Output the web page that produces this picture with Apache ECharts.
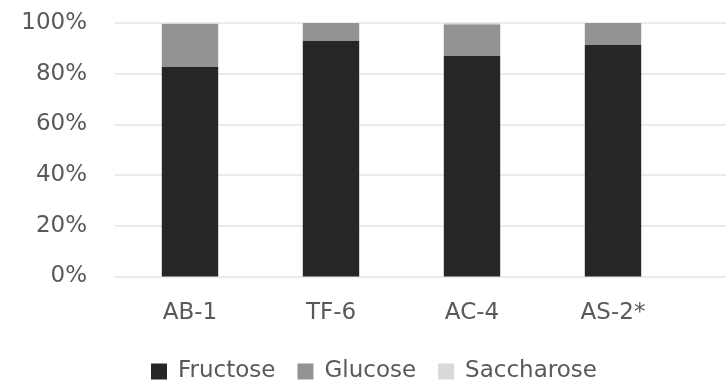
<!DOCTYPE html>
<html><head><meta charset="utf-8">
<script src="https://cdn.jsdelivr.net/npm/echarts@6/dist/echarts.min.js"></script>
<style>html,body{margin:0;padding:0;background:#fff}#c{width:726px;height:388px}</style>
</head><body><div id="c"></div>
<script>
var categories = ['AB-1', 'TF-6', 'AC-4', 'AS-2*'];
var fructose = [82.8, 93.1, 87.2, 91.3];
var glucose = [16.8, 6.9, 12.3, 8.7];
var saccharose = [0.4, 0, 0.5, 0];
var yTicks = [0, 20, 40, 60, 80, 100];

var chart = echarts.init(document.getElementById('c'));
var font = 'DejaVu Sans';
var txt = '#595959';
function mk(name, data, color) {
  return { name: name, type: 'bar', stack: 's', data: data, barWidth: '40%',
    xAxisIndex: 0, yAxisIndex: 0, itemStyle: { color: color }, emphasis: { disabled: true } };
}
chart.setOption({
  animation: false,
  textStyle: { fontFamily: font },
  grid: [
    { left: 119.5, width: 564, top: 23, bottom: 111.5 },
    { left: 115, right: 0, top: 23, bottom: 111.5 }
  ],
  xAxis: [
    { type: 'category', gridIndex: 0, data: categories,
      axisLine: { show: false }, axisTick: { show: false },
      axisLabel: { color: txt, fontSize: 23, margin: 25, fontFamily: font } },
    { type: 'value', gridIndex: 1, show: false, min: 0, max: 1 }
  ],
  yAxis: [
    { type: 'value', gridIndex: 0, min: 0, max: 100, interval: 20, show: false },
    { type: 'value', gridIndex: 1, min: 0, max: 100, interval: 20,
      axisLine: { show: false }, axisTick: { show: false },
      splitLine: { lineStyle: { color: '#e4e4e4', width: 1.5 } },
      axisLabel: { color: txt, fontSize: 23, margin: 28, fontFamily: font,
        formatter: function (v) { return yTicks.indexOf(v) >= 0 ? v + '%' : ''; } } }
  ],
  legend: {
    bottom: 0, left: 146, itemWidth: 16, itemHeight: 16, itemGap: 22,
    icon: 'rect',
    textStyle: { color: txt, fontSize: 23, fontFamily: font, padding: [0, 0, 0, 6] },
    data: ['Fructose', 'Glucose', 'Saccharose']
  },
  series: [
    mk('Fructose', fructose, '#262626'),
    mk('Glucose', glucose, '#939393'),
    mk('Saccharose', saccharose, '#d9d9d9'),
    { type: 'line', xAxisIndex: 1, yAxisIndex: 1, data: [], silent: true }
  ]
});
</script></body></html>
